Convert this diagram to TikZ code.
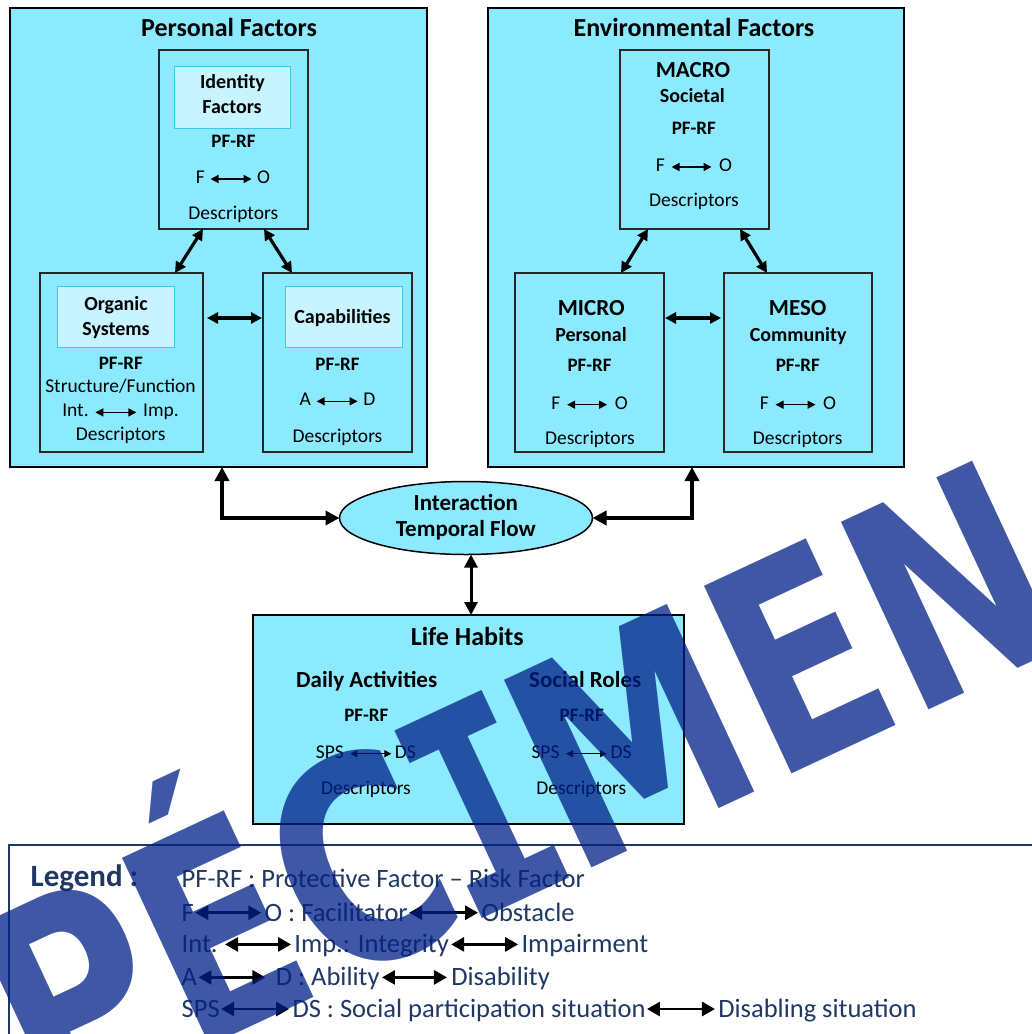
\documentclass[tikz,border=0pt]{standalone}
\usepackage{fontspec}
\setmainfont{Carlito}
\newfontfamily\wmfont{DejaVu Sans}
\newfontfamily\wmmono{DejaVu Sans Mono}
\usetikzlibrary{arrows.meta,shapes.geometric,calc}
\definecolor{cyanfill}{RGB}{140,234,255}
\definecolor{litefill}{RGB}{200,244,255}
\definecolor{liteline}{RGB}{60,200,235}
\definecolor{navy}{RGB}{31,56,100}
\definecolor{wmblue}{RGB}{0,32,135}
\newcommand\myfs[1]{\fontsize{#1pt}{#1pt}\selectfont}
\newcommand\smarr[1]{\tikz[baseline=-4.3pt]\draw[black,line width=1.4pt,{Triangle[length=8pt,width=8pt]}-{Triangle[length=8pt,width=8pt]}](0pt,0pt)--(#1,0pt);}
\newcommand\tnarr[1]{\tikz[baseline=-4.6pt]\draw[black,line width=1pt,{Triangle[length=7pt,width=7pt]}-{Triangle[length=7pt,width=7pt]}](0pt,0pt)--(#1,0pt);}
\newcommand\bigarr[1]{\tikz[baseline=-8.3pt]\draw[black,line width=2.8pt,{Triangle[length=13pt,width=14pt]}-{Triangle[length=13pt,width=14pt]}](0pt,0pt)--(#1,0pt);}
\begin{document}
\begin{tikzpicture}[x=1pt,y=-1pt,
  every node/.style={inner sep=0pt,outer sep=0pt},
  bigbox/.style={draw=black,line width=2.2pt,fill=cyanfill,rectangle,anchor=north west},
  subbox/.style={draw=black!85,line width=1.3pt,fill=cyanfill,rectangle,anchor=north west},
  litebox/.style={draw=liteline,line width=1pt,fill=litefill,rectangle,anchor=north west},
  lbl/.style={anchor=base},
  ttl/.style={lbl,font=\bfseries\myfs{26}},
  bxx/.style={lbl,font=\bfseries\myfs{23}},
  bx/.style={lbl,font=\bfseries\myfs{20}},
  pf/.style={lbl,font=\bfseries\myfs{19}},
  rg/.style={lbl,font=\myfs{19.5}},
  leg/.style={anchor=base west,text=navy,font=\myfs{26.5}},
  con/.style={black,line width=3.2pt,{Triangle[length=11pt,width=11pt]}-{Triangle[length=11pt,width=11pt]}},
  fat/.style={black,line width=4pt,{Triangle[length=14pt,width=14pt]}-{Triangle[length=14pt,width=14pt]}},
  mid/.style={black,line width=3pt,{Triangle[length=13pt,width=13pt]}-{Triangle[length=13pt,width=13pt]}}]
\useasboundingbox (0,0) rectangle (1032,1034);
\fill[white] (0,0) rectangle (1032,1034);
\clip (0,0) rectangle (1032,1034);

% Personal factors
\node[bigbox,minimum width=417pt,minimum height=459pt] (pfb) at (10,8) {};
\node[ttl] (ptitle) at (229,36) {Personal Factors};
\node[subbox,minimum width=149pt,minimum height=179pt] (idb) at (159,50) {};
\node[litebox,minimum width=116pt,minimum height=62pt] (idl) at (174,66) {};
\node[subbox,minimum width=163pt,minimum height=179pt] (orb) at (40,273) {};
\node[litebox,minimum width=117pt,minimum height=61pt] (orl) at (57,286) {};
\node[subbox,minimum width=149pt,minimum height=179pt] (cab) at (263,273) {};
\node[litebox,minimum width=117pt,minimum height=61pt] (cal) at (285,286) {};

\node[bx] (id1) at (232.5,88.3) {Identity};
\node[bx] (id2) at (232,113.3) {Factors};
\node[pf] (idp) at (233.5,147.7) {PF-RF};
\node[rg] (idf) at (233,183.3) {F\kern5pt\smarr{41pt}\kern5pt O};
\node[rg] (idd) at (233.3,219.3) {Descriptors};

\node[bx] (or1) at (116,310.3) {Organic};
\node[bx] (or2) at (116,335) {Systems};
\node[pf] (orp) at (120.8,369) {PF-RF};
\node[rg] (ors) at (120.5,392.3) {Structure/Function};
\node[rg] (ori) at (120.5,416.7) {Int.\kern6pt\smarr{41pt}\kern6pt Imp.};
\node[rg] (ord) at (120.7,440.7) {Descriptors};

\node[bx] (ca1) at (342.5,323.6) {Capabilities};
\node[pf] (cap) at (337.5,370) {PF-RF};
\node[rg] (caa) at (337.5,405.6) {A\kern5pt\smarr{41pt}\kern5pt D};
\node[rg] (cad) at (337.5,442.3) {Descriptors};

\draw[con] ([xshift=44pt]idb.south west) -- ([xshift=-28pt]orb.north east);
\draw[con] ([xshift=-44pt]idb.south east) -- ([xshift=29pt]cab.north west);
\draw[con] ($(orb.north east)+(4,45)$) -- ($(cab.north west)+(-1,45)$);

% Environmental factors
\node[bigbox,minimum width=416pt,minimum height=459pt] (efb) at (488,8) {};
\node[ttl] (etitle) at (694,36) {Environmental Factors};
\node[subbox,minimum width=149pt,minimum height=179pt] (mab) at (620,50) {};
\node[subbox,minimum width=149pt,minimum height=179pt] (mib) at (515,273) {};
\node[subbox,minimum width=148pt,minimum height=179pt] (meb) at (724,273) {};

\node[bxx] (ma1) at (693,77.8) {MACRO};
\node[bx] (ma2) at (692.4,102.6) {Societal};
\node[pf] (map) at (693.8,134) {PF-RF};
\node[rg] (maf) at (694,171.3) {F\kern6pt\smarr{40pt}\kern7pt O};
\node[rg] (mad) at (694,206.6) {Descriptors};

\node[bxx] (mi1) at (591.2,315.5) {MICRO};
\node[bx] (mi2) at (591,341) {Personal};
\node[pf] (mip) at (589.6,371.6) {PF-RF};
\node[rg] (mif) at (589.6,409) {F\kern6pt\smarr{40pt}\kern7pt O};
\node[rg] (mid) at (590,444.6) {Descriptors};

\node[bxx] (me1) at (797.7,315.5) {MESO};
\node[bx] (me2) at (798.2,341) {Community};
\node[pf] (mep) at (797.8,371.6) {PF-RF};
\node[rg] (mef) at (798,409) {F\kern6pt\smarr{40pt}\kern7pt O};
\node[rg] (med) at (797.7,444.6) {Descriptors};

\draw[con] ([xshift=28pt]mab.south west) -- ([xshift=-43pt]mib.north east);
\draw[con] ([xshift=-29pt]mab.south east) -- ([xshift=43pt]meb.north west);
\draw[con] ($(mib.north east)+(1,45)$) -- ($(meb.north west)+(-3,45)$);

% Interaction ellipse
\node[ellipse,draw=black,line width=1.5pt,fill=cyanfill,minimum width=253pt,minimum height=73pt] (ell) at (466,518) {};
\node[bxx] (el1) at (465.8,510.5) {Interaction};
\node[bxx] (el2) at (465.8,536.8) {Temporal Flow};
\draw[fat] (ell.west) -| ([xshift=212pt]pfb.south west);
\draw[fat] (ell.east) -| ([xshift=-212pt]efb.south east);

% Life habits
\node[bigbox,minimum width=431pt,minimum height=209pt] (lhb) at (253,615) {};
\draw[mid] ([xshift=5pt]ell.south) -- ([xshift=5pt]ell.south |- lhb.north);
\node[ttl] (lh) at (467.3,645.7) {Life Habits};
\node[bxx] (da) at (366.7,687.8) {Daily Activities};
\node[bxx] (sr) at (585.2,687.8) {Social Roles};
\node[pf] (dap) at (366.3,721.6) {PF-RF};
\node[pf] (srp) at (581.7,721.6) {PF-RF};
\node[rg] (das) at (365.8,758.3) {SPS\kern6pt\tnarr{41pt}\kern3pt DS};
\node[rg] (srs) at (581.5,758.3) {SPS\kern6pt\tnarr{41pt}\kern3pt DS};
\node[rg] (dad) at (366,794) {Descriptors};
\node[rg] (srd) at (581.3,794) {Descriptors};

% Legend
\node[draw=navy,line width=2pt,rectangle,anchor=north west,minimum width=1040pt,minimum height=220pt] (legb) at (9,845) {};
\node[anchor=base west,text=navy,font=\bfseries\myfs{31}] (lgt) at (30.7,886.3) {Legend :};
\node[leg] (lg1) at (181.7,887.8) {PF-RF : Protective Factor – Risk Factor};
\node[leg] (lg2) at (181.7,921) {F\bigarr{66pt}\kern2pt O : Facilitator\bigarr{69pt}\kern2pt Obstacle};
\node[leg] (lg3) at (181.7,952.7) {Int.\kern6pt\bigarr{66pt}\kern2pt Imp.: Integrity\kern1pt\bigarr{67pt}\kern2pt Impairment};
\node[leg] (lg4) at (181.7,985.7) {A\bigarr{67pt}\kern9pt D : Ability\kern1pt\bigarr{65pt}\kern3pt Disability};
\node[leg] (lg5) at (181.7,1017.3) {SPS\bigarr{68pt}\kern2pt DS : Social participation situation\bigarr{68pt}\kern2pt Disabling situation};

% Watermark
\begin{scope}[shift={(-100.2,1190.4)},rotate=25,xscale=0.78]
\node[anchor=base west,transform shape,text=wmblue,text opacity=0.75,font=\wmfont\bfseries\fontsize{284pt}{284pt}\selectfont] (wm) at (0,0) {SPÉC\kern-0.051em{\wmmono I}\kern-0.063em MEN};
\end{scope}
\end{tikzpicture}
\end{document}
